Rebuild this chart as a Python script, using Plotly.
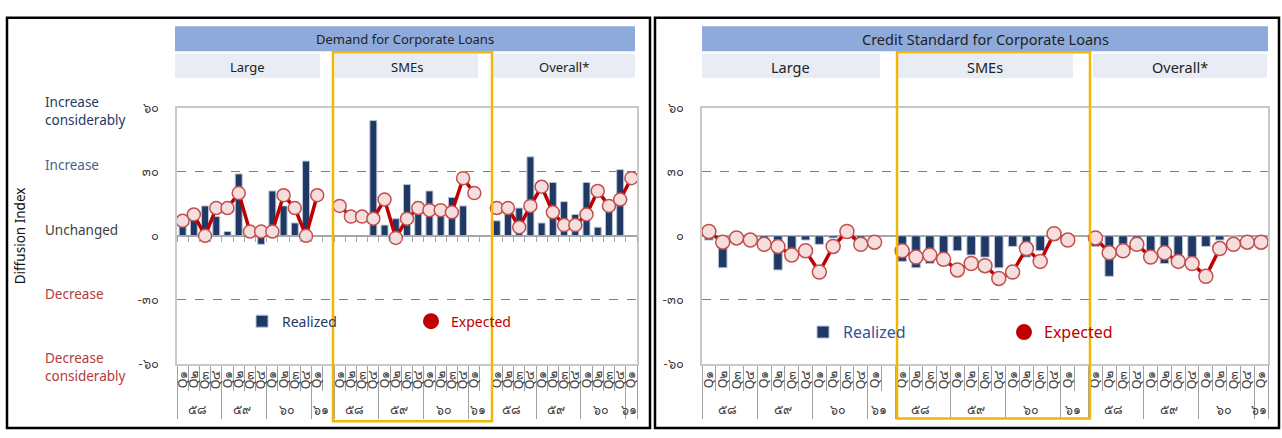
import plotly.graph_objects as go

W, H = 1282, 438
def X(px): return px / W
def Y(py): return 1 - py / H

# ---------------- data ----------------
segments = ["Large", "SMEs", "Overall*"]
years = ["๕๘", "๕๙", "๖๐", "๖๑"]
quarters = ["Q๑", "Q๒", "Q๓", "Q๔"]

# Demand for Corporate Loans (13 quarters: Q1/58 .. Q1/61)
demand_large_realized   = [10, 8, 14, 9, 2, 29, 1, -4, 21, 14, 6, 35, None]
demand_large_expected   = [7, 10, 0, 13, 13, 20, 2, 2, 2, 19, 13, 0, 19]
demand_sme_realized     = [None, None, None, 54, 5, 8, 24, 16, 21, 14, 18, 14, None]
demand_sme_expected     = [14, 9, 9, 8, 17, -1, 8, 13, 12, 12, 11, 27, 20]
demand_all_realized     = [7, 10, 13, 37, 6, 25, 16, 10, 25, 4, 12, 31, None]
demand_all_expected     = [13, 13, 4, 14, 23, 11, 5, 5, 10, 21, 14, 17, 27]

# Credit Standard for Corporate Loans
credit_large_realized   = [-2, -15, -1, -1, -2, -16, -7, -2, -4, -1, 0, -1, None]
credit_large_expected   = [2, -3, -1, -2, -4, -5, -9, -7, -17, -5, 2, -4, -3]
credit_sme_realized     = [-12, -15, -13, -14, -7, -9, -10, -15, -5, -10, -7, -2, None]
credit_sme_expected     = [-7, -10, -9, -11, -16, -13, -14, -20, -17, -6, -12, 1, -2]
credit_all_realized     = [-5, -19, -4, -2, -9, -13, -10, -10, -5, -2, 0, 0, None]
credit_all_expected     = [-1, -8, -7, -4, -10, -8, -12, -13, -19, -6, -4, -3, -3]

y_tickvals = [-60, -30, 0, 30, 60]
y_ticktext = ["-๖๐", "-๓๐", "๐", "๓๐", "๖๐"]

# ---------------- build categories ----------------
def build_axis(segs):
    outer, inner = [], []
    for s_i, _ in enumerate(segs):
        zw = "\u200b" * s_i
        for yr in years[:3]:
            for q in quarters:
                outer.append(yr + zw); inner.append(q)
        outer.append(years[3] + zw); inner.append(quarters[0])
        if s_i < len(segs) - 1:
            outer.append(years[3] + zw); inner.append(" " + zw)
    return [outer, inner]

def join(series_list):
    out = []
    for i, s in enumerate(series_list):
        out += list(s)
        if i < len(series_list) - 1:
            out.append(None)
    return out

xcat = build_axis(segments)
n_slots = len(xcat[0])

NAVY = "#1F3864"
RED = "#C00000"

fig = go.Figure()

panels = [
    (join([demand_large_realized, demand_sme_realized, demand_all_realized]),
     join([demand_large_expected, demand_sme_expected, demand_all_expected]), "x", "y", "legend", 13),
    (join([credit_large_realized, credit_sme_realized, credit_all_realized]),
     join([credit_large_expected, credit_sme_expected, credit_all_expected]), "x2", "y2", "legend2", 14),
]
for real, exp, xa, ya, lg, msz in panels:
    fig.add_trace(go.Bar(x=xcat, y=real, xaxis=xa, yaxis=ya, name="Realized",
                         marker=dict(color=NAVY, line=dict(color="#B8C4D8", width=1)),
                         legend=lg, showlegend=True, hoverinfo="skip"))
    fig.add_trace(go.Scatter(x=xcat, y=exp, xaxis=xa, yaxis=ya, mode="lines+markers",
                             line=dict(color=RED, width=3.5),
                             marker=dict(size=msz, color="#F6DEDE", line=dict(color="#C0504D", width=1.5)),
                             showlegend=False, connectgaps=False, hoverinfo="skip"))
    fig.add_trace(go.Scatter(x=[None], y=[None], xaxis=xa, yaxis=ya, mode="markers",
                             name="<span style='color:#C00000'>Expected</span>",
                             marker=dict(size=16, color=RED), legend=lg, showlegend=True))

# empty trace so that the zero-line tick axis is drawn
fig.add_trace(go.Scatter(x=[None], y=[None], xaxis="x3", yaxis="y", mode="markers",
                         showlegend=False, hoverinfo="skip"))

ydom = [Y(370), Y(103)]
axis_common = dict(type="multicategory", tickangle=-90, showgrid=False, zeroline=False,
                   range=[-0.5, n_slots - 0.5], tickmode="linear", tick0=0, dtick=1,
                   showline=True, linecolor="#C8C8C8", linewidth=1.5, mirror=True,
                   ticks="outside", tickcolor="#A0A0A0", ticklen=25,
                   showdividers=True, dividercolor="#A0A0A0", dividerwidth=1.2,
                   tickfont=dict(size=12.5, color="#404040", family="Noto Sans"))
yaxis_common = dict(range=[-60, 60], tickvals=y_tickvals, ticktext=y_ticktext,
                    showgrid=True, gridcolor="#808080", griddash="dash", gridwidth=1,
                    zeroline=True, zerolinecolor="#A6A6A6", zerolinewidth=1.5,
                    showline=True, linecolor="#C8C8C8", linewidth=1.5, mirror=True,
                    ticks="", ticklabelstandoff=14,
                    tickfont=dict(size=13, color="#404040", family="Noto Sans"))

fig.update_layout(
    width=W, height=H, margin=dict(l=0, r=0, t=0, b=0),
    paper_bgcolor="white", plot_bgcolor="white",
    bargap=0.38, showlegend=True,
    font=dict(family="Noto Sans", color="#333333"),
    xaxis=dict(domain=[X(177), X(637)], anchor="y", **axis_common),
    yaxis=dict(domain=ydom, anchor="x", **yaxis_common),
    xaxis2=dict(domain=[X(702), X(1268)], anchor="y2", **axis_common),
    yaxis2=dict(domain=ydom, anchor="x2", **yaxis_common),
    # small category ticks along the zero line of the left panel
    xaxis3=dict(overlaying="x", anchor="free", position=(ydom[0] + ydom[1]) / 2,
                range=[-0.5, n_slots - 0.5], tickmode="linear",
                tick0=-0.5, dtick=1, ticks="outside", ticklen=5, tickcolor="#A6A6A6",
                showticklabels=False, showline=False, showgrid=False, zeroline=False),
    legend=dict(orientation="h", x=X(242), y=Y(326), xanchor="left", yanchor="middle",
                entrywidth=124, bgcolor="rgba(0,0,0,0)",
                font=dict(size=14, color=NAVY, family="Noto Sans")),
    legend2=dict(orientation="h", x=X(803), y=Y(337), xanchor="left", yanchor="middle",
                 entrywidth=156, bgcolor="rgba(0,0,0,0)",
                 font=dict(size=16, color="#2F5597", family="Noto Sans")),
)

shapes = []
annotations = []

def ann(text, x, y, size, color, xanchor="center", **kw):
    annotations.append(dict(text=text, xref="paper", yref="paper", x=x, y=y, xanchor=xanchor,
                            yanchor="middle", showarrow=False, font=dict(size=size, color=color), **kw))

# panel frames
for x0, x1 in [(7, 650), (655, 1279)]:
    shapes.append(dict(type="rect", xref="paper", yref="paper", x0=X(x0), x1=X(x1), y0=Y(437), y1=Y(9),
                       line=dict(color="black", width=2.5), fillcolor="rgba(0,0,0,0)", layer="above"))

# header bands
headers = [
    ("Demand for Corporate Loans", 175, 635, 13,
     [("Large", 175, 320), ("SMEs", 335, 478), ("Overall*", 493, 635)]),
    ("Credit Standard for Corporate Loans", 702, 1268, 14.5,
     [("Large", 702, 880), ("SMEs", 897, 1073), ("Overall*", 1093, 1267)]),
]
for title, x0, x1, fs, subs in headers:
    shapes.append(dict(type="rect", xref="paper", yref="paper", x0=X(x0), x1=X(x1), y0=Y(44), y1=Y(18),
                       line=dict(width=0), fillcolor="#8EAADB", layer="below"))
    ann(title, X((x0 + x1) / 2), Y(31), fs, "#222222")
    for name, s0, s1 in subs:
        shapes.append(dict(type="rect", xref="paper", yref="paper", x0=X(s0), x1=X(s1), y0=Y(72), y1=Y(47),
                           line=dict(width=0), fillcolor="#E8ECF5", layer="below"))
        ann(name, X((s0 + s1) / 2), Y(60), fs, "#222222")

# highlight boxes around SMEs
for x0, x1, y1 in [(333, 492, 430), (897, 1090, 427)]:
    shapes.append(dict(type="rect", xref="paper", yref="paper", x0=X(x0), x1=X(x1), y0=Y(y1), y1=Y(45),
                       line=dict(color="#F2B705", width=2.5), fillcolor="rgba(0,0,0,0)", layer="above"))

# left descriptors
desc = [
    ("Increase<br>considerably", 106, "#1F3864"),
    ("Increase", 163, "#44648F"),
    ("Unchanged", 230, "#404040"),
    ("Decrease", 297, "#B23A3A"),
    ("Decrease<br>considerably", 373, "#B23A3A"),
]
for t, yy, c in desc:
    ann(t, X(43), Y(yy), 13.5, c, xanchor="left", align="left")
ann("Diffusion Index", X(20), Y(237), 13.5, "#111111", textangle=-90)

fig.update_layout(shapes=shapes, annotations=annotations)
fig.write_html("out.html")
